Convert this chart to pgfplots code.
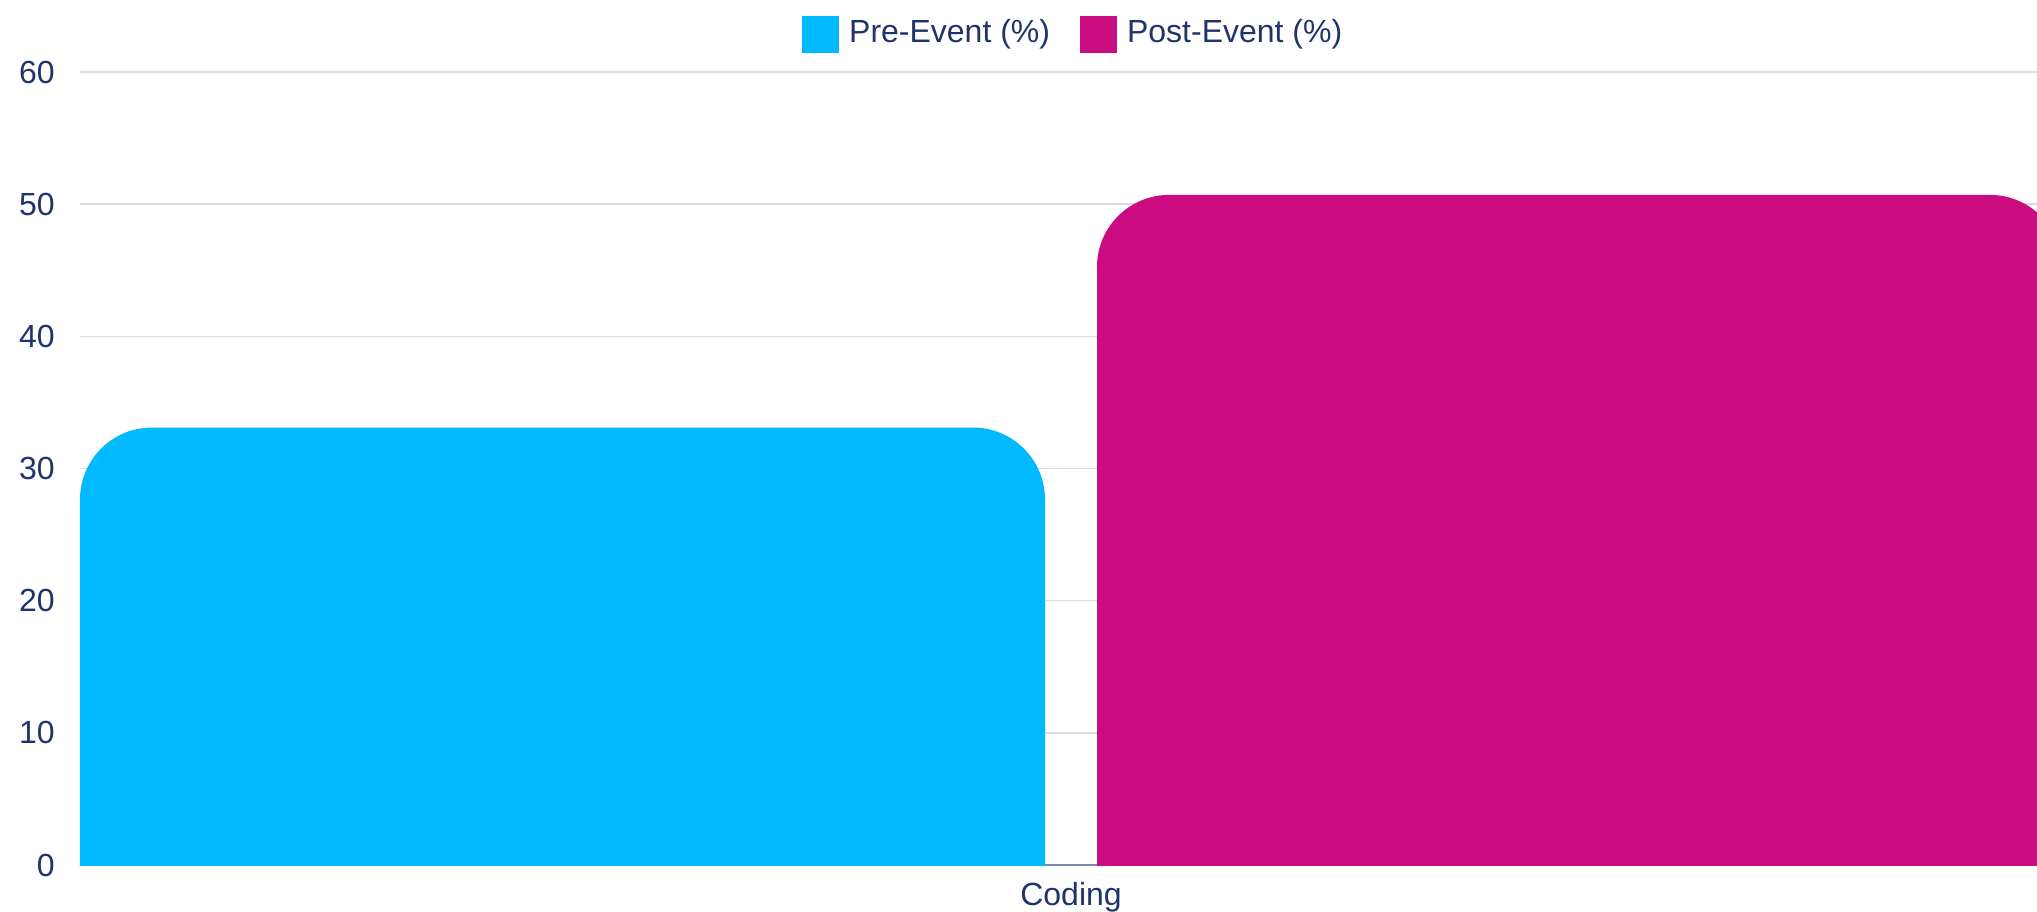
\documentclass[border=0pt]{standalone}
\usepackage{fontspec}
\setmainfont{Liberation Sans}
\usepackage{pgfplots}
\pgfplotsset{compat=1.18}
\definecolor{precol}{RGB}{0,185,255}
\definecolor{postcol}{RGB}{203,12,128}
\definecolor{txtcol}{RGB}{31,52,107}
\definecolor{gridcol}{RGB}{216,220,230}
\definecolor{basecol}{RGB}{120,135,170}
\begin{document}
\begin{tikzpicture}
\useasboundingbox (-40pt,-23pt) rectangle (978.5pt,432.5pt);
\begin{axis}[
  at={(0,0)}, anchor=south west,
  scale only axis, width=978.5pt, height=396.5pt,
  xmin=80, xmax=2037, ymin=0, ymax=60,
  ytick={0,10,...,60}, xtick={1071}, xticklabels={Coding},
  ymajorgrids, major grid style={gridcol, line width=0.8pt},
  axis x line*=bottom, axis y line*=left,
  y axis line style={draw=none},
  x axis line style={basecol, line width=0.6pt},
  major tick length=0pt,
  tick label style={font=\fontsize{16}{19}\selectfont, text=txtcol},
  /pgf/number format/assume math mode=true,
  yticklabel style={inner sep=0pt, anchor=east, xshift=-12.5pt},
  xticklabel style={inner sep=0pt, anchor=north, yshift=-8.5pt},
  legend columns=2,
  legend style={at={(0.3688,1.0477)}, anchor=west, draw=none, fill=none,
    font=\fontsize{16}{19}\selectfont, text=txtcol, inner sep=0pt,
    cells={anchor=base west}, nodes={inner sep=0pt},
    /tikz/every even column/.append style={column sep=15pt}},
  legend image code/.code={\fill[#1, sharp corners] (0pt,-5pt) rectangle (18.5pt,13.5pt); \path (23.5pt,0pt);},
]
\addplot[precol, fill=precol, draw=none, rounded corners=36pt]
  coordinates {(80,-10) (80,33.1) (1045,33.1) (1045,-10)};
\addlegendentry{Pre-Event (\%)}
\addplot[postcol, fill=postcol, draw=none, rounded corners=36pt]
  coordinates {(1097,-10) (1097,50.7) (2062,50.7) (2062,-10)};
\addlegendentry{Post-Event (\%)}
\end{axis}
\end{tikzpicture}
\end{document}
